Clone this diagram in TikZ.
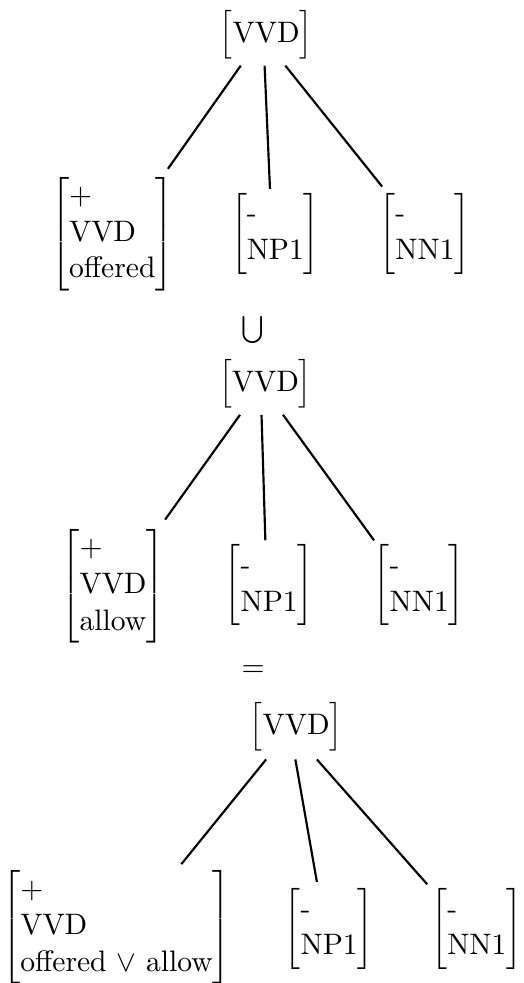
\documentclass[tikz,border=0pt,11pt]{standalone}
\usepackage{array}

% caixas de traços com colchetes
\newcommand{\featbox}[1]{$\left[\begin{tabular}{@{}l@{}}#1\end{tabular}\right]$}
\newcommand{\topbox}[1]{$\Big[$#1$\Big]$}

\begin{document}
\begin{tikzpicture}[
  feat/.style={inner sep=0pt},
  branch/.style={line width=0.8pt}
]
\useasboundingbox (0,0) rectangle (6.8,12.78);

% Primeira árvore
\node[feat] (p1) at (3.46, 12.33) {\topbox{VVD}};
\node[feat] (a1) at (1.46, 9.74) {\featbox{+\\VVD\\offered}};
\node[feat] (b1) at (3.58, 9.74) {\featbox{-\\NP1}};
\node[feat] (c1) at (5.525, 9.74) {\featbox{-\\NN1}};

% Ramos da primeira árvore
\draw[branch] ([shift={(-0.33,-0.08)}]p1.south) -- ([shift={(-0.08,0.10)}]a1.north east);
\draw[branch] ([shift={(-0.02,-0.08)}]p1.south) -- ([shift={(-0.07,0.05)}]b1.north);
\draw[branch] ([shift={(0.25,-0.08)}]p1.south) -- ([shift={(0.04,0.08)}]c1.north west);

% União
\node[feat] (uniao) at (3.29, 8.49) {$\bigcup$};

% Segunda árvore
\node[feat] (p2) at (3.45, 7.79) {\topbox{VVD}};
\node[feat] (a2) at (1.47, 5.16) {\featbox{+\\VVD\\allow}};
\node[feat] (b2) at (3.50, 5.17) {\featbox{-\\NP1}};
\node[feat] (c2) at (5.45, 5.17) {\featbox{-\\NN1}};

% Ramos da segunda árvore
\draw[branch] ([shift={(-0.33,-0.08)}]p2.south) -- ([shift={(0,0.12)}]a2.north east);
\draw[branch] ([shift={(-0.05,-0.08)}]p2.south) -- ([shift={(-0.05,0.05)}]b2.north);
\draw[branch] ([shift={(0.23,-0.08)}]p2.south) -- ([shift={(0.01,0.05)}]c2.north west);

% Igualdade
\node[feat] (igual) at (3.29, 4.06) {$=$};

% Árvore resultante
\node[feat] (p3) at (3.85, 3.33) {\topbox{VVD}};
\node[feat] (a3) at (1.515, 0.72) {\featbox{+\\VVD\\offered $\vee$ allow}};
\node[feat] (b3) at (4.28, 0.70) {\featbox{-\\NP1}};
\node[feat] (c3) at (6.20, 0.70) {\featbox{-\\NN1}};

% Ramos da árvore resultante
\draw[branch] ([shift={(-0.39,-0.1)}]p3.south) -- ([shift={(-0.65,0.08)}]a3.north east);
\draw[branch] ([shift={(-0.01,-0.1)}]p3.south) -- ([shift={(-0.16,0.08)}]b3.north);
\draw[branch] ([shift={(0.27,-0.1)}]p3.south) -- ([shift={(-0.05,0.05)}]c3.north west);

\end{tikzpicture}
\end{document}
